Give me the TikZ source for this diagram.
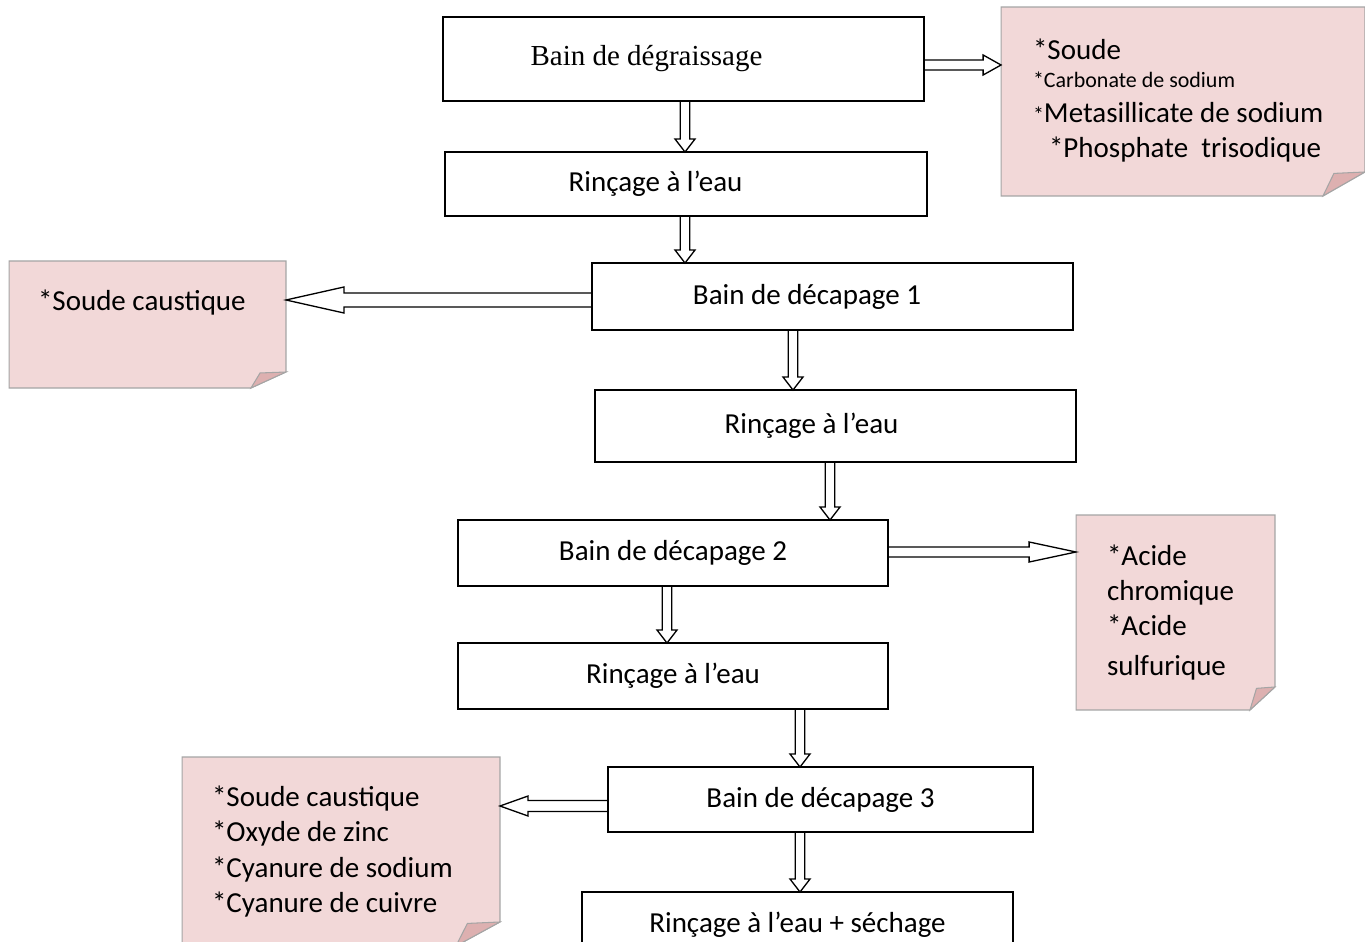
\documentclass[tikz,border=0pt]{standalone}
\usepackage{fontspec}
\setmainfont{Carlito}
\newfontfamily\timesfont{Liberation Serif}
\usepackage{tikz}
\usetikzlibrary{calc,backgrounds}

\definecolor{notepink}{RGB}{242,216,216}
\definecolor{notefold}{RGB}{221,176,176}
\definecolor{noteline}{RGB}{165,165,165}

\tikzset{
    procbox/.style={draw, line width=0.9pt, inner sep=0pt, outer sep=0pt,
        font=\fontsize{16.5}{20}\selectfont},
    notebox/.style={inner ysep=0pt, outer sep=0pt, align=flush left,
        font=\fontsize{16.5}{20}\selectfont},
    hollow/.style={line width=0.75pt, line join=miter},
    paper/.style={fill=notepink, draw=noteline, line width=0.6pt},
}

% hollow arrow: from, to, shaft half width, head half width, head length
\newcommand{\hollowarrow}[5]{%
    \draw[hollow] ($(#1)!#3!90:(#2)$)
        -- ($(#2)!#5!(#1)!#3!90:(#2)$)
        -- ($(#2)!#5!(#1)!#4!90:(#2)$)
        -- (#2)
        -- ($(#2)!#5!(#1)!#4!-90:(#2)$)
        -- ($(#2)!#5!(#1)!#3!-90:(#2)$)
        -- ($(#1)!#3!-90:(#2)$);
}

\begin{document}
\begin{tikzpicture}[x=0.02cm, y=-0.02cm]
    \useasboundingbox (0,0) rectangle (1365,942);

    % =====================
    % Process steps
    % =====================
    \node[procbox, minimum width=9.62cm, minimum height=1.68cm, font=\timesfont\fontsize{16.5}{20}\selectfont]
        (degr) at (683.5,59) {Bain de dégraissage\hspace*{1.48cm}};
    \node[procbox, minimum width=9.64cm, minimum height=1.28cm]
        (rinse1) at (686,184) {Rinçage à l’eau\hspace*{1.22cm}};
    \node[procbox, minimum width=9.62cm, minimum height=1.34cm]
        (dec1) at (832.5,296.5) {Bain de décapage 1\hspace*{1.02cm}};
    \node[procbox, minimum width=9.62cm, minimum height=1.44cm]
        (rinse2) at (835.5,426) {Rinçage à l’eau\hspace*{0.96cm}};
    \node[procbox, minimum width=8.6cm, minimum height=1.32cm]
        (dec2) at (673,553) {Bain de décapage 2};
    \node[procbox, minimum width=8.6cm, minimum height=1.32cm]
        (rinse3) at (673,676) {Rinçage à l’eau};
    \node[procbox, minimum width=8.5cm, minimum height=1.3cm]
        (dec3) at (820.5,799.5) {Bain de décapage 3};
    \node[procbox, minimum width=8.62cm, minimum height=1.3cm]
        (dry) at (797.5,924.5) {Rinçage à l’eau + séchage};

    % =====================
    % Products (notes)
    % =====================
    \node[notebox, inner xsep=0.64cm, text width=6cm, minimum height=3.78cm] (noteA) at (1183,101.5)
        {*Soude\\[-4pt]
         {\fontsize{12.5}{15}\selectfont *Carbonate de sodium}\\[0pt]
         {\fontsize{12.5}{15}\selectfont *}Metasillicate de sodium\\[0pt]
         \hspace*{0.32cm}*Phosphate\ \ trisodique\\[-16pt]\mbox{}};
    \node[notebox, inner xsep=0.58cm, text width=4.38cm, text height=27.9pt, text depth=44.4pt]
        (noteB) at (147.5,324.5) {*Soude caustique};
    \node[notebox, inner xsep=0.62cm, text width=2.74cm, minimum height=3.9cm] (noteC) at (1175.5,612.5)
        {*Acide\\{}chromique\\{}*Acide\\[3pt]{}sulfurique};
    \node[notebox, inner xsep=0.6cm, text width=5.16cm, minimum height=3.78cm] (noteD) at (341,851.5)
        {*Soude caustique\\{}*Oxyde de zinc\\{}*Cyanure de sodium\\{}*Cyanure de cuivre};

    \begin{scope}[on background layer]
        \foreach \nt/\fx/\fy in {noteA/42/24, noteB/35/16, noteC/25/23, noteD/44/24} {
            \filldraw[paper] (\nt.north west) -- (\nt.north east)
                -- ($(\nt.south east)+(0,-\fy)$) -- ($(\nt.south east)+(-\fx,0)$)
                -- (\nt.south west) -- cycle;
            \filldraw[paper, fill=notefold] ($(\nt.south east)+(-\fx,0)$)
                .. controls ($(\nt.south east)+(-0.86*\fx,-0.45*\fy)$) .. ($(\nt.south east)+(-0.74*\fx,-0.94*\fy)$)
                -- ($(\nt.south east)+(0,-\fy)$) -- cycle;
        }
    \end{scope}

    % =====================
    % Arrows
    % =====================
    \hollowarrow{degr.east |- 0,65}{noteA.west |- 0,65}{2.85pt}{5.7pt}{10.2pt}
    \hollowarrow{degr.south -| 685,0}{rinse1.north -| 685,0}{2.7pt}{5.7pt}{7.4pt}
    \hollowarrow{rinse1.south -| 685,0}{dec1.north -| 685,0}{2.7pt}{5.7pt}{7.4pt}
    \hollowarrow{dec1.west |- 0,300}{noteB.east |- 0,300}{4pt}{7.4pt}{33pt}
    \hollowarrow{dec1.south -| 793,0}{rinse2.north -| 793,0}{2.7pt}{5.7pt}{7.4pt}
    \hollowarrow{rinse2.south -| 830,0}{dec2.north -| 830,0}{2.7pt}{5.7pt}{7.4pt}
    \hollowarrow{dec2.east |- 0,552}{noteC.west |- 0,552}{2.85pt}{5.7pt}{26.7pt}
    \hollowarrow{dec2.south -| 667,0}{rinse3.north -| 667,0}{2.7pt}{5.7pt}{7.4pt}
    \hollowarrow{rinse3.south -| 800,0}{dec3.north -| 800,0}{2.7pt}{5.7pt}{7.4pt}
    \hollowarrow{dec3.west |- 0,806}{noteD.east |- 0,806}{3.1pt}{5.7pt}{16pt}
    \hollowarrow{dec3.south -| 800,0}{dry.north -| 800,0}{2.7pt}{5.7pt}{7.4pt}
\end{tikzpicture}
\end{document}
